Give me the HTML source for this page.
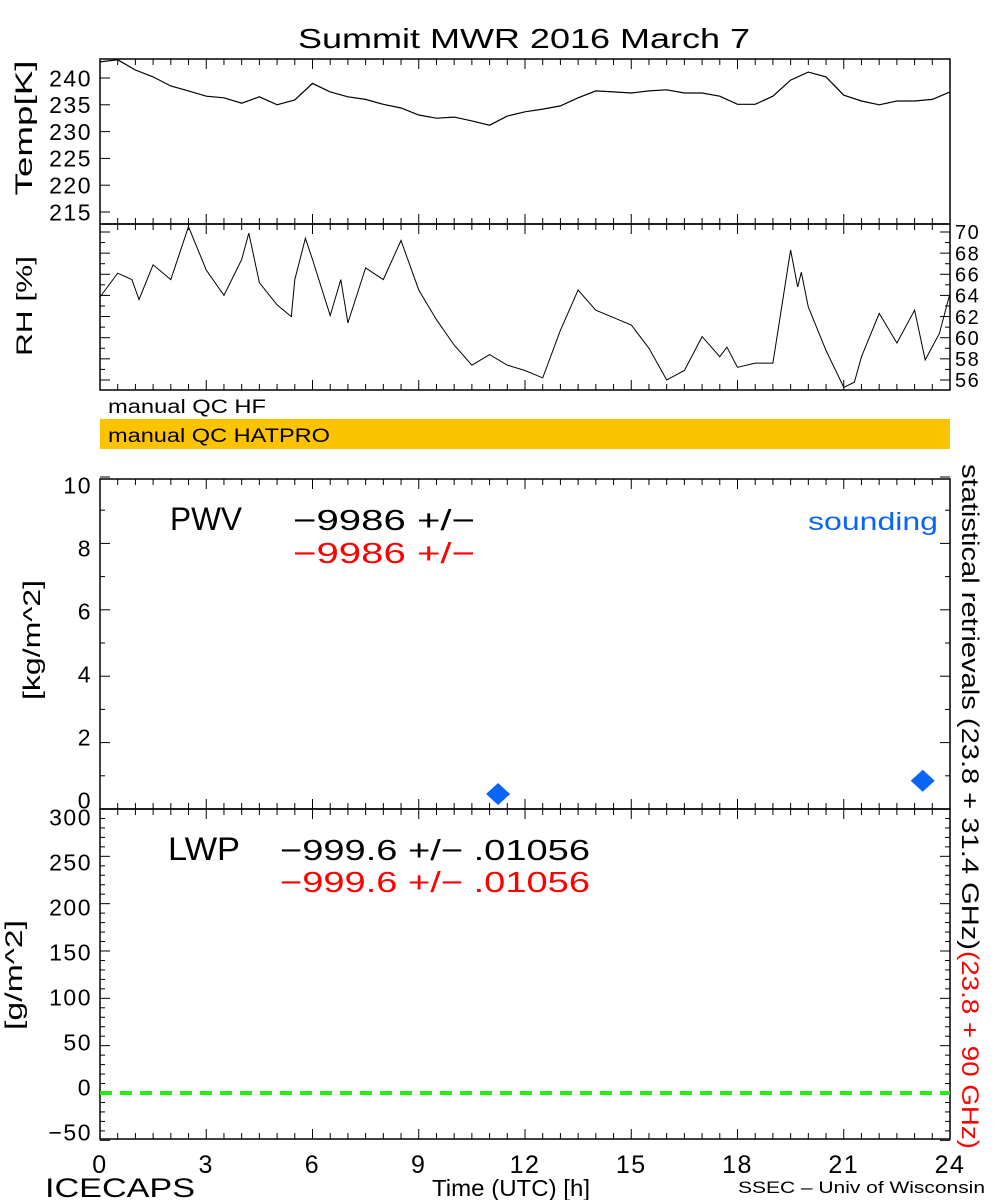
<!DOCTYPE html>
<html><head><meta charset="utf-8"><style>
html,body{margin:0;padding:0;background:#fff;}
svg{display:block;font-family:"Liberation Sans",sans-serif;}
</style></head><body>
<svg id="chart" width="1000" height="1200" viewBox="0 0 1000 1200" xmlns="http://www.w3.org/2000/svg">
<rect width="1000" height="1200" fill="#fff"/>
<text x="298" y="48" font-size="28" textLength="452" lengthAdjust="spacingAndGlyphs">Summit MWR 2016 March  7</text>
<g id="g"></g>
</svg>
<script>
const tempHours=[0,0.5,1,1.5,2,2.5,3,3.5,4,4.5,5,5.5,6,6.5,7,7.5,8,8.5,9,9.5,10,10.5,11,11.5,12,12.5,13,13.5,14,14.5,15,15.5,16,16.5,17,17.5,18,18.5,19,19.5,20,20.5,21,21.5,22,22.5,23,23.5,24];
const tempValues=[243,243.4,241.5,240.2,238.5,237.6,236.6,236.3,235.3,236.5,235,235.9,239,237.4,236.5,236,235.1,234.4,233.1,232.5,232.7,232,231.2,232.9,233.7,234.2,234.8,236.3,237.6,237.4,237.2,237.6,237.8,237.2,237.2,236.6,235.1,235.1,236.6,239.6,241.1,240.2,236.8,235.7,235,235.7,235.7,236,237.4];
const rhHours=[0,0.5,0.9,1.1,1.5,2,2.5,3,3.5,4,4.2,4.5,5,5.4,5.5,5.8,6,6.5,6.8,7,7.5,8,8.5,9,9.5,10,10.5,11,11.5,12,12.5,13,13.5,14,14.5,15,15.5,16,16.5,17,17.5,17.7,18,18.5,19,19.5,19.7,19.8,20,20.5,21,21.3,21.5,22,22.5,23,23.3,23.7,24];
const rhValues=[63.85,66.1,65.5,63.6,66.9,65.5,70.5,66.4,64,67.4,69.9,65.2,63.1,62,65.5,69.4,67.4,62.1,65.5,61.4,66.6,65.5,69.2,64.5,61.7,59.3,57.4,58.4,57.4,56.9,56.2,60.7,64.5,62.6,61.9,61.2,59,56,56.9,60.1,58.2,59.1,57.2,57.6,57.6,68.3,64.8,66.2,62.9,58.8,55.3,55.8,58.2,62.3,59.5,62.6,57.9,60.4,64.2];
const soundHours=[11.24,23.23];
const soundPWV=[0.45,0.85];
const xTicks=[0,3,6,9,12,15,18,21,24];
const tempTicks=[240,235,230,225,220,215];
const rhTicks=[70,68,66,64,62,60,58,56];
const pwvTicks=[10,8,6,4,2,0];
const lwpTicks=[300,250,200,150,100,50,0,-50];
const lwpZero=[0];

const NS="http://www.w3.org/2000/svg";
const g=document.getElementById('g');
function el(t,a,p){const e=document.createElementNS(NS,t);for(const k in a)e.setAttribute(k,a[k]);(p||g).appendChild(e);return e;}
const X0=100,X1=950;
const xs=h=>X0+h*(X1-X0)/24;
const yTemp=v=>78+(240-v)*5.36;
const yRH=v=>232+(70-v)*10.57;
const yPWV=v=>809-v*33.2;
const yLWP=v=>1093-v*0.9467;
const lPWV=v=>485+(10-v)*31.5;
const lLWP=v=>817+(300-v)*0.9;

function panel(name,top,bot){
  const r=el('rect',{x:X0,y:top,width:X1-X0,height:bot-top,fill:'none',stroke:'#000','stroke-width':1.5});
  
  
  for(let h=0;h<=24;h+=0.5){
    const L=(h%3===0)?10:6;
    const t1=el('line',{x1:xs(h),x2:xs(h),y1:top,y2:top+L,stroke:'#000'});
    
    
    const t2=el('line',{x1:xs(h),x2:xs(h),y1:bot,y2:bot-L,stroke:'#000'});
    
    
  }
}
function yTicksFn(name,ticks,yf,minorStep,side,lab,fs,lf){
  lf=lf||yf;
  const lo=Math.min(...ticks),hi=Math.max(...ticks);
  for(let v=lo;v<=hi+1e-9;v+=minorStep){
    const major=ticks.some(t=>Math.abs(t-v)<1e-6);
    const L=major?10:5;
    const x=side==='left'?X0:X1;
    const t=el('line',{x1:x,x2:side==='left'?x+L:x-L,y1:yf(v),y2:yf(v),stroke:'#000'});
    
    
  }
  if(lab) ticks.forEach(v=>{
    const s=String(v).replace('-','\u2212');
    const tx=el('text',{x:side==='left'?92:955,y:lf(v)+fs*0.36,'font-size':fs,'text-anchor':side==='left'?'end':'start','letter-spacing':1.5});
    tx.textContent=s;
    
    
  });
}
panel('temp',59,224);
yTicksFn('temp',tempTicks,yTemp,5,'left',true,23);
let d=tempHours.map((h,i)=>(i?'L':'M')+xs(h).toFixed(1)+','+yTemp(tempValues[i]).toFixed(1)).join('');
let p=el('path',{d:d,fill:'none',stroke:'#000','stroke-width':1.2});


panel('rh',224,390);
yTicksFn('rh',rhTicks,yRH,1,'left',false,20);
yTicksFn('rh',rhTicks,yRH,1,'right',true,20);
d=rhHours.map((h,i)=>(i?'L':'M')+xs(h).toFixed(1)+','+yRH(rhValues[i]).toFixed(1)).join('');
p=el('path',{d:d,fill:'none',stroke:'#000','stroke-width':1});


panel('pwv',479,809);
yTicksFn('pwv',pwvTicks,yPWV,1,'left',true,23,lPWV);
yTicksFn('pwv',pwvTicks,yPWV,1,'right',false,22);
soundHours.forEach((h,i)=>{
  const x=xs(h),y=yPWV(soundPWV[i]);
  const m=el('polygon',{points:`${x-12},${y} ${x},${y-11} ${x+12},${y} ${x},${y+11}`,fill:'#0a64f5'});
  
  
});
panel('lwp',809,1139);
yTicksFn('lwp',lwpTicks,yLWP,10,'left',true,23,lLWP);
yTicksFn('lwp',lwpTicks,yLWP,10,'right',false,22);
lwpZero.forEach(v=>{
  const l=el('line',{x1:X0,x2:X1,y1:yLWP(v),y2:yLWP(v),stroke:'#22ee11','stroke-width':4,'stroke-dasharray':'12,8'});
  
  
});
xTicks.forEach(h=>{
  const t=el('text',{x:xs(h),y:1173,'font-size':25,'text-anchor':'middle','letter-spacing':1.5});
  t.textContent=h;
  
  
});
</script>
<svg width="1000" height="1200" style="position:absolute;left:0;top:0" xmlns="http://www.w3.org/2000/svg">
<text transform="translate(32,128) rotate(-90)" font-size="24" text-anchor="middle" textLength="135" lengthAdjust="spacingAndGlyphs">Temp[K]</text>
<text transform="translate(32,306) rotate(-90)" font-size="22" text-anchor="middle" textLength="100" lengthAdjust="spacingAndGlyphs">RH [%]</text>
<text x="108" y="413" font-size="19" textLength="158" lengthAdjust="spacingAndGlyphs">manual QC HF</text>
<rect x="100" y="419" width="850" height="30" fill="#fcc400"/>
<text x="108" y="442" font-size="19" textLength="222" lengthAdjust="spacingAndGlyphs">manual QC HATPRO</text>
<text transform="translate(40,640) rotate(-90)" font-size="24" text-anchor="middle" textLength="120" lengthAdjust="spacingAndGlyphs">[kg/m^2]</text>
<text transform="translate(22,975) rotate(-90)" font-size="24" text-anchor="middle" textLength="110" lengthAdjust="spacingAndGlyphs">[g/m^2]</text>
<text x="170" y="530" font-size="32" textLength="72" lengthAdjust="spacingAndGlyphs">PWV</text>
<text x="293" y="530" font-size="29" textLength="182" lengthAdjust="spacingAndGlyphs">−9986 +/−</text>
<text x="293" y="563" font-size="29" fill="#ff0000" textLength="182" lengthAdjust="spacingAndGlyphs">−9986 +/−</text>
<text x="808" y="530" font-size="25" fill="#0a64f5" textLength="130" lengthAdjust="spacingAndGlyphs">sounding</text>
<text x="168" y="860" font-size="32" textLength="72" lengthAdjust="spacingAndGlyphs">LWP</text>
<text x="280" y="860" font-size="29" textLength="310" lengthAdjust="spacingAndGlyphs">−999.6 +/− .01056</text>
<text x="280" y="892" font-size="29" fill="#ff0000" textLength="310" lengthAdjust="spacingAndGlyphs">−999.6 +/− .01056</text>
<text transform="translate(962,464) rotate(90)" font-size="24" textLength="486" lengthAdjust="spacingAndGlyphs">statistical retrievals (23.8 + 31.4 GHz)</text>
<text transform="translate(962,951) rotate(90)" font-size="24" fill="#ff0000" textLength="198" lengthAdjust="spacingAndGlyphs">(23.8 + 90 GHz)</text>
<text x="45" y="1197" font-size="27" textLength="150" lengthAdjust="spacingAndGlyphs">ICECAPS</text>
<text x="432" y="1196" font-size="23" textLength="158" lengthAdjust="spacingAndGlyphs">Time (UTC) [h]</text>
<text x="738" y="1193" font-size="17" textLength="247" lengthAdjust="spacingAndGlyphs">SSEC – Univ of Wisconsin</text>
</svg>
</body></html>
